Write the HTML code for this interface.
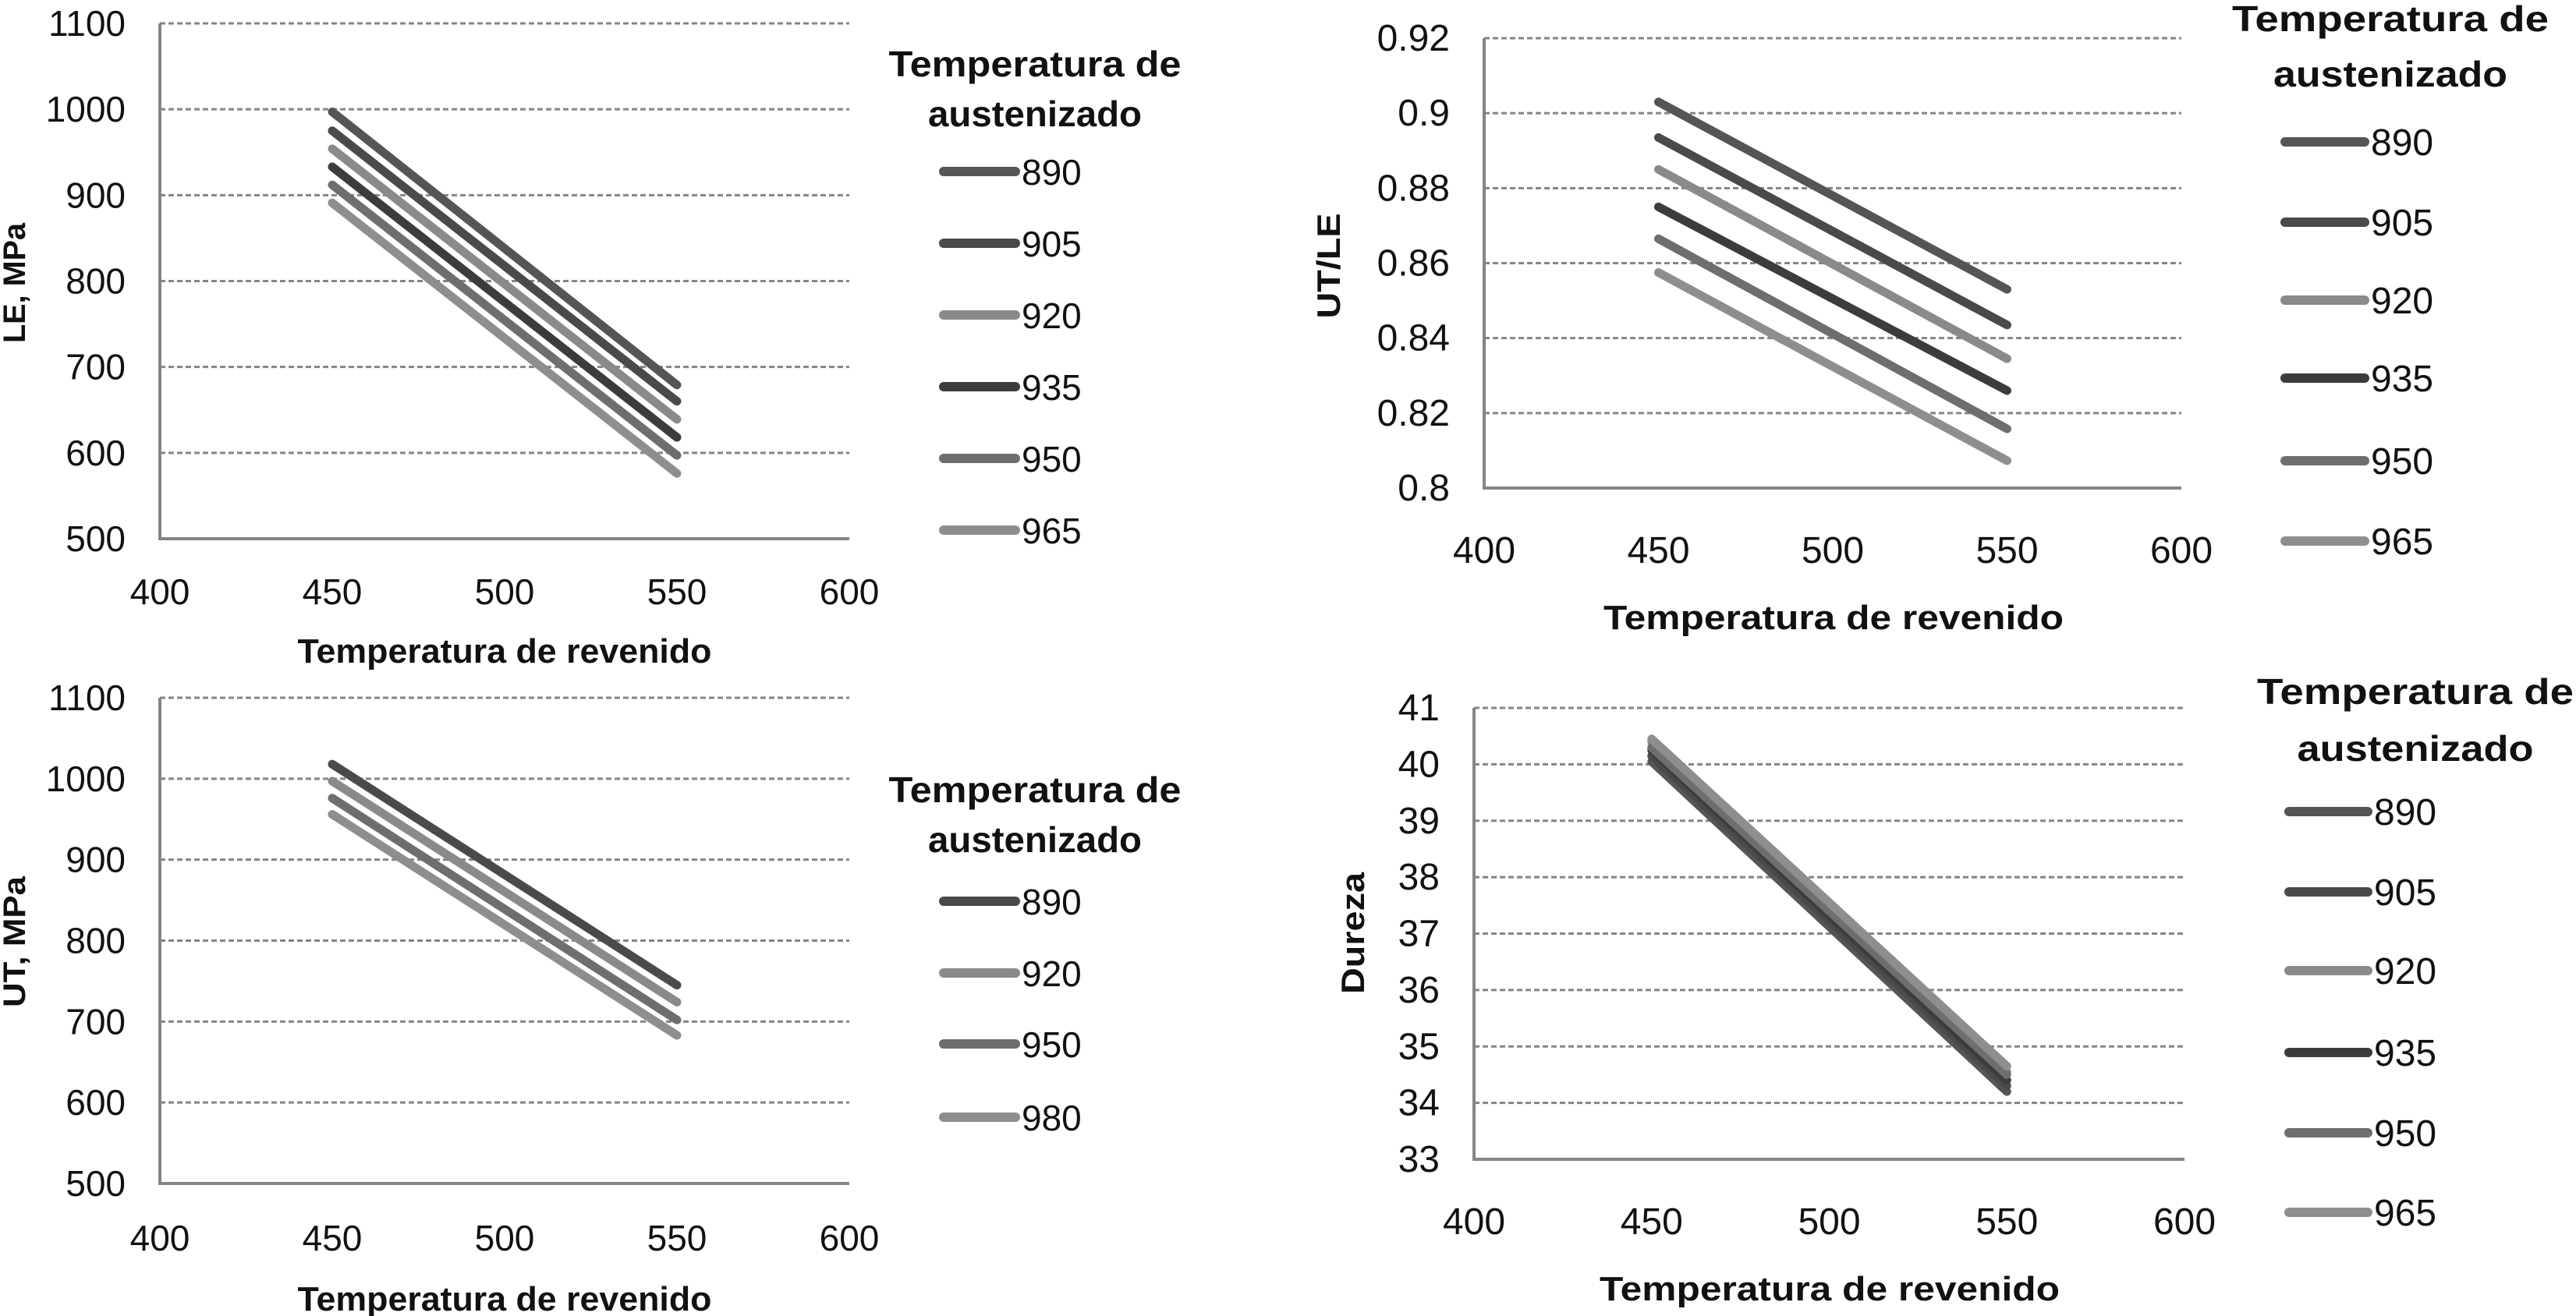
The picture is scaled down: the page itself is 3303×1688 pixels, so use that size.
<!DOCTYPE html>
<html><head><meta charset="utf-8"><style>
html,body{margin:0;padding:0;background:#fff;}
svg{display:block;}
text{font-family:"Liberation Sans",sans-serif;}
</style></head><body>
<svg id="s" width="3303" height="1688" viewBox="0 0 3303 1688" xmlns="http://www.w3.org/2000/svg"></svg>
<script>
// ---- Chart 1: LE, MPa ----
const c1Series = ['890','905','920','935','950','965'];
const c1At450 = [997, 975, 954, 933, 912, 891];
const c1At550 = [679, 660, 639, 618, 597, 576];
const c1YTicks = [500,600,700,800,900,1000,1100];
// ---- Chart 2: UT/LE ----
const c2Series = ['890','905','920','935','950','965'];
const c2At450 = [0.903, 0.8935, 0.885, 0.875, 0.8665, 0.8575];
const c2At550 = [0.853, 0.8435, 0.8345, 0.826, 0.8158, 0.8073];
const c2YTicks = [0.8,0.82,0.84,0.86,0.88,0.9,0.92];
const c2YLabels = ['0.8','0.82','0.84','0.86','0.88','0.9','0.92'];
// ---- Chart 3: UT, MPa ----
const c3Series = ['890','920','950','980'];
const c3At450 = [1018, 997, 976, 956];
const c3At550 = [745, 724, 702, 683];
const c3YTicks = [500,600,700,800,900,1000,1100];
// ---- Chart 4: Dureza ----
const c4Series = ['890','905','920','935','950','965'];
const c4At450 = [40.05, 40.15, 40.4, 40.25, 40.3, 40.45];
const c4At550 = [34.2, 34.3, 34.55, 34.4, 34.5, 34.65];
const c4YTicks = [33,34,35,36,37,38,39,40,41];
// shared
const xTicks = [400,450,500,550,600];
const xVals = [450, 550];

const colors6 = ['#555555','#4a4a4a','#8a8a8a','#3c3c3c','#6e6e6e','#8e8e8e'];
const colors4 = ['#4a4a4a','#8a8a8a','#6e6e6e','#8e8e8e'];
const NS='http://www.w3.org/2000/svg';
const svg=document.getElementById('s');
function mk(tag,attrs,parent){const e=document.createElementNS(NS,tag);for(const k in attrs)e.setAttribute(k,attrs[k]);(parent||svg).appendChild(e);return e;}

function drawChart(o){
  const g=mk('g',{});
  
  
  const xs=v=>o.x0+(v-400)/200*(o.x1-o.x0);
  const ys=v=>o.yb+(v-o.ymin)/(o.ymax-o.ymin)*(o.yt-o.yb);
  o.yticks.forEach((t,i)=>{
    const y=ys(t);
    if(i>0){const l=mk('line',{x1:o.x0,x2:o.x1,y1:y,y2:y,stroke:'#858585','stroke-width':3,'stroke-dasharray':'7 4'},g);
      
      }
    const tx=mk('text',{x:o.x0-44,y:y+16,'text-anchor':'end','font-size':o.fs,fill:'#111'},g);
    tx.textContent=o.ylabels?o.ylabels[i]:String(t);
    
    
  });
  const ax=mk('line',{x1:o.x0,x2:o.x0,y1:o.yt,y2:o.yb,stroke:'#858585','stroke-width':4},g);
  
  
  const bx=mk('line',{x1:o.x0-2,x2:o.x1,y1:o.yb,y2:o.yb,stroke:'#858585','stroke-width':4},g);
  
  
  xTicks.forEach(t=>{
    const tx=mk('text',{x:xs(t),y:o.xty,'text-anchor':'middle','font-size':o.fs,fill:'#111'},g);
    tx.textContent=String(t);
    
    
  });
  const xt=mk('text',{x:o.xtx,y:o.xtitley,'text-anchor':'middle','font-size':44,'font-weight':'bold',fill:'#111',textLength:o.xtw,lengthAdjust:'spacingAndGlyphs'},g);
  xt.textContent='Temperatura de revenido';
  
  
  const yt=mk('text',{x:0,y:0,'text-anchor':'middle','font-size':o.ytfs,'font-weight':'bold',fill:'#111',transform:`translate(${o.ytx},${o.yty}) rotate(-90)`,textLength:o.ytw,lengthAdjust:'spacingAndGlyphs'},g);
  yt.textContent=o.ytitle;
  
  
  o.series.forEach((s,i)=>{
    const l=mk('line',{x1:xs(xVals[0]),y1:ys(o.a[i]),x2:xs(xVals[1]),y2:ys(o.b[i]),stroke:o.colors[i],'stroke-width':o.lw,'stroke-linecap':'round'},g);
    
    
  });
  const t1=mk('text',{x:o.lgx,y:o.lgt1,'text-anchor':'middle','font-size':46,'font-weight':'bold',fill:'#111',textLength:o.lgw,lengthAdjust:'spacingAndGlyphs'},g);
  t1.textContent='Temperatura de';
  
  
  const t2=mk('text',{x:o.lgx,y:o.lgt2,'text-anchor':'middle','font-size':46,'font-weight':'bold',fill:'#111',textLength:o.lgw2,lengthAdjust:'spacingAndGlyphs'},g);
  t2.textContent='austenizado';
  
  
  o.series.forEach((s,i)=>{
    const y=o.lgy[i];
    const l=mk('line',{x1:o.lgl0,x2:o.lgl1,y1:y,y2:y,stroke:o.colors[i],'stroke-width':12,'stroke-linecap':'round'},g);
    
    
    const t=mk('text',{x:o.lgl1+8,y:y+17,'font-size':o.fs,fill:'#111'},g);
    t.textContent=s;
    
    
  });
}

drawChart({name:'chart-le',x0:205,x1:1089,yt:30,yb:691,ymin:500,ymax:1100,yticks:c1YTicks,series:c1Series,a:c1At450,b:c1At550,colors:colors6,lw:11,fs:46,xty:775,xtx:647,xtitley:850,xtw:531,ytitle:'LE, MPa',ytx:32,yty:363,ytfs:40,ytw:154,
  lgx:1327,lgt1:98,lgt2:162,lgw:375,lgw2:274,lgy:[220,312,404,496,588,680],lgl0:1210,lgl1:1302});
drawChart({name:'chart-ut-le',x0:1903,x1:2797,yt:49,yb:626,ymin:0.8,ymax:0.92,yticks:c2YTicks,ylabels:c2YLabels,series:c2Series,a:c2At450,b:c2At550,colors:colors6,lw:11,fs:48,xty:722,xtx:2351,xtitley:807,xtw:590,ytitle:'UT/LE',ytx:1718,yty:341,ytfs:42,ytw:135,
  lgx:3065,lgt1:40,lgt2:111,lgw:406,lgw2:300,lgy:[182,285,385,485,591,694],lgl0:2930,lgl1:3032});
drawChart({name:'chart-ut',x0:205,x1:1089,yt:895,yb:1518,ymin:500,ymax:1100,yticks:c3YTicks,series:c3Series,a:c3At450,b:c3At550,colors:colors4,lw:11,fs:46,xty:1604,xtx:647,xtitley:1681,xtw:531,ytitle:'UT, MPa',ytx:32,yty:1208,ytfs:40,ytw:168,
  lgx:1327,lgt1:1029,lgt2:1093,lgw:375,lgw2:274,lgy:[1156,1248,1339,1433],lgl0:1210,lgl1:1302});
drawChart({name:'chart-dureza',x0:1890,x1:2801,yt:908,yb:1487,ymin:33,ymax:41,yticks:c4YTicks,series:c4Series,a:c4At450,b:c4At550,colors:colors6,lw:11,fs:48,xty:1583,xtx:2346,xtitley:1668,xtw:590,ytitle:'Dureza',ytx:1749,yty:1197,ytfs:42,ytw:156,
  lgx:3097,lgt1:903,lgt2:976,lgw:406,lgw2:303,lgy:[1041,1144,1245,1350,1453,1555],lgl0:2935,lgl1:3036});
</script>
</body></html>
